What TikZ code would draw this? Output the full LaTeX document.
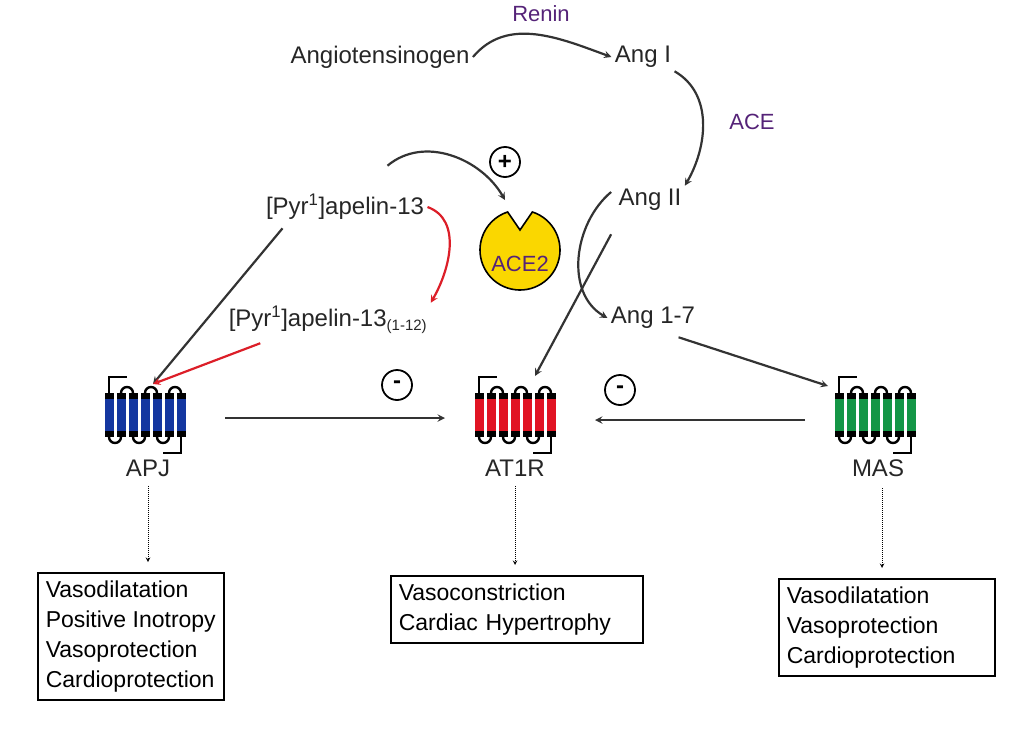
\documentclass[tikz,border=0pt]{standalone}
\usepackage{fontspec}
\setmainfont{Liberation Sans}
\usetikzlibrary{arrows,positioning}
\definecolor{enz}{RGB}{85,35,120}
\definecolor{apjblue}{RGB}{20,55,160}
\definecolor{atred}{RGB}{225,20,35}
\definecolor{masgreen}{RGB}{20,150,70}
\definecolor{acey}{RGB}{250,215,0}
\definecolor{redarr}{RGB}{220,30,40}
\tikzset{
  txt/.style={font=\fontsize{24}{28}\selectfont,text=black!85},
  enzt/.style={font=\fontsize{22}{26}\selectfont,text=enz},
  arr/.style={->,>=stealth,line width=2.2pt,draw=black!80},
  rarr/.style={->,>=stealth,line width=2.2pt,draw=redarr},
  dotarr/.style={->,>=stealth,densely dotted,line width=1pt},
  effbox/.style={draw,line width=1.5pt,align=left,inner sep=8pt,font=\fontsize{23}{30}\selectfont},
  sign/.style={circle,draw,line width=1.8pt,minimum size=30pt,inner sep=0pt,font=\bfseries\fontsize{24}{24}\selectfont},
  gpcr/.pic={
    \foreach \i in {0,...,6}{
      \fill[black] (-40.5+12*\i,-22) rectangle ++(9,44);
      \fill[\rcol] (-40.5+12*\i,-16) rectangle ++(9,32);
    }
    \foreach \i in {1,3,5}
      \draw[line width=2.4pt] (-36+12*\i,-22) arc[start angle=180,end angle=360,radius=6];
    \foreach \i in {0,2,4}
      \draw[line width=2.4pt] (-36+12*\i,22) arc[start angle=180,end angle=0,radius=6];
    \draw[line width=2.4pt] (-36,-22) -- (-36,-38) -- (-18,-38);
    \draw[line width=2.4pt] (36,22) -- (36,38) -- (18,38);
  }
}
\begin{document}
\begin{tikzpicture}[x=1pt,y=-1pt]
\useasboundingbox (0,0) rectangle (1009,731);

% cascade
\node[txt]  (agt)   at (380,57)  {Angiotensinogen};
\node[enzt] (renin) at (541,14)  {Renin};
\node[txt]  (ang1)  at (643,57)  {Ang I};
\node[enzt] (ace)   at (752,122) {ACE};
\node[txt]  (ang2)  at (650,200) {Ang II};
\node[txt]  (ang17) at (653,318) {Ang 1-7};
\node[txt]  (pyr)   at (345,207) {[Pyr\textsuperscript{1}]apelin-13};
\node[txt]  (pyr12) at (328,320) {[Pyr\textsuperscript{1}]apelin-13\textsubscript{\fontsize{15}{15}\selectfont(1-12)}};

% ACE2
\filldraw[fill=acey,line width=1.6pt] (520,250) ++(-72:40) arc[start angle=-72,end angle=252,radius=40]
  -- (520,230) -- cycle;
\node[enzt] (ace2) at (520,264) {ACE2};
\node[sign] (plus) at (505,162) {+};

% receptors
\begin{scope}\def\rcol{apjblue}\pic at (145,415) {gpcr};\end{scope}
\begin{scope}\def\rcol{atred}\pic at (515,415) {gpcr};\end{scope}
\begin{scope}\def\rcol{masgreen}\pic at (875,415) {gpcr};\end{scope}
\node[txt] (apj)  at (148,468) {APJ};
\node[txt] (at1r) at (515,468) {AT1R};
\node[txt] (mas)  at (878,468) {MAS};
\coordinate (apjin) at (153,384);
\coordinate (at1in) at (535,376);
\coordinate (masin) at (828,386);
\coordinate (apjR) at (225,418);
\coordinate (at1L) at (445,418);
\coordinate (at1R) at (595,420);
\coordinate (masL) at (805,420);
\node[sign] (m1) at (397,385) {-};
\node[sign] (m2) at (620,390) {-};

% effects
\node[effbox,anchor=north west] (effapj) at (37,572) {Vasodilatation\\Positive Inotropy\\Vasoprotection\\Cardioprotection};
\node[effbox,anchor=north west,text width=236pt] (effat) at (390,575) {Vasoconstriction\\Cardiac Hypertrophy};
\node[effbox,anchor=north west,text width=200pt] (effmas) at (778,578) {Vasodilatation\\Vasoprotection\\Cardioprotection};

% arrows
\draw[arr] (agt.east) to[out=50,in=160] (ang1.west);
\draw[arr] (ang1.south east) to[out=-30,in=60] (ang2.north east);
\draw[arr] (ang2.west) ++(-4,-8) to[out=220,in=150] (ang17.west);
\draw[arr] (ang2.south west) ++(-4,20) -- (at1in);
\draw[arr] (ang17.south east) ++(-20,5) -- (masin);
\draw[arr] (pyr.south west) ++(20,5) -- (apjin);
\draw[rarr] (pyr12.south west) ++(35,6) -- (apjin);
\draw[rarr] (pyr.east) to[out=-20,in=60] (pyr12.north east);
\draw[arr] (pyr.north east) ++(-40,-25) to[out=40,in=120] (505,200);
\draw[arr] (apjR) -- (at1L);
\draw[arr] (masL) -- (at1R);
\draw[dotarr] (apj.south) ++(0,6) -- (148,562);
\draw[dotarr] (at1r.south) ++(0,6) -- (515,565);
\draw[dotarr] (mas.south) ++(4,8) -- (882,568);
\end{tikzpicture}
\end{document}
